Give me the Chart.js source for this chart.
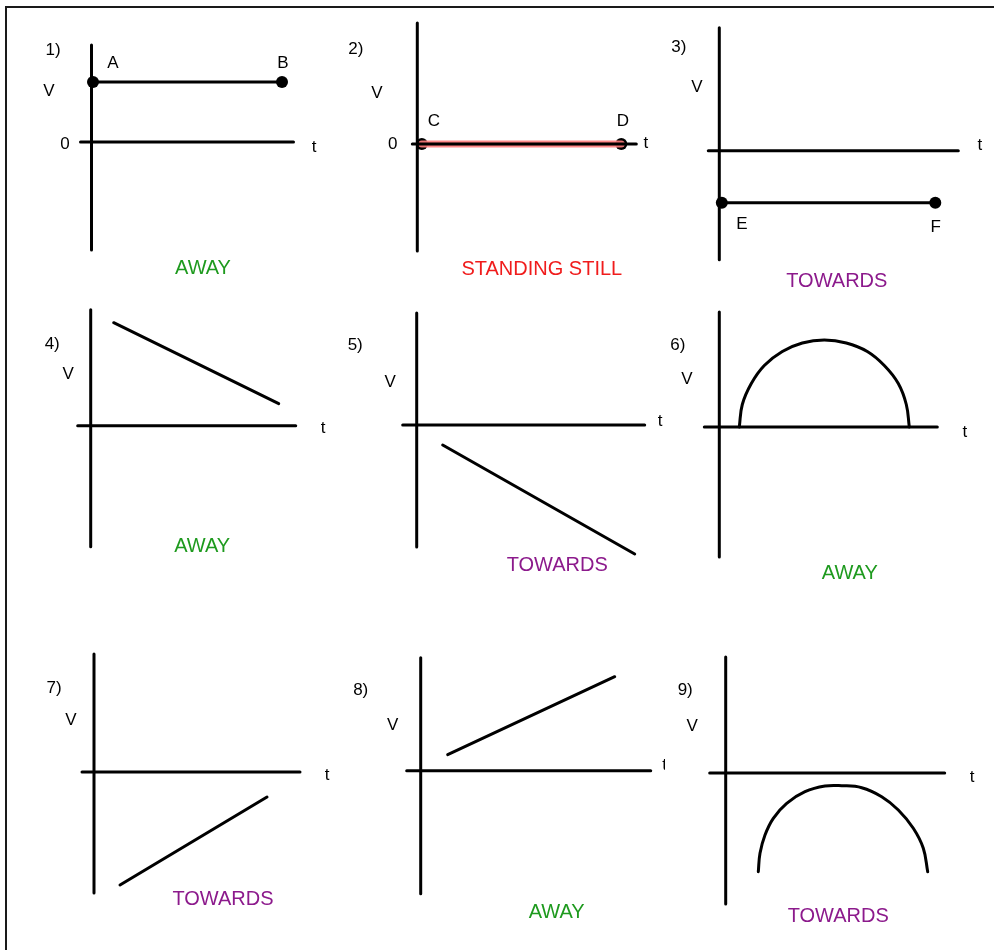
<!DOCTYPE html>
<html>
<head>
<meta charset="utf-8">
<script src="https://cdn.jsdelivr.net/npm/chart.js@4.4.1/dist/chart.umd.min.js"></script>
<style>
  body { margin: 0; background: #fff; overflow: hidden; width: 994px; height: 950px; position: relative; }
  #frame { position: absolute; left: 5px; top: 6px; width: 1100px; height: 1100px;
           border-left: 2px solid #1a1a1a; border-top: 2px solid #1a1a1a; }
  canvas { position: absolute; }
</style>
</head>
<body>
<div id="frame"></div>
<script>
// --- data (t and V in arbitrary units, origin = where the axes cross) ---
const panelNumbers = ["1)", "2)", "3)", "4)", "5)", "6)", "7)", "8)", "9)"];
const verdicts = ["AWAY", "STANDING STILL", "TOWARDS", "AWAY", "TOWARDS", "AWAY", "TOWARDS", "AWAY", "TOWARDS"];

// extent of the drawn t axis and V axis in each panel
const tAxisSpan = [[-1.1, 20.2], [-0.5, 21.9], [-1.1, 23.9], [-1.3, 20.5], [-1.4, 22.8], [-1.5, 21.8], [-1.2, 20.6], [-1.4, 23.0], [-1.6, 21.9]];
const vAxisSpan = [[-10.8, 9.7], [-10.7, 12.1], [-10.9, 12.3], [-12.1, 11.6], [-12.2, 11.2], [-13.0, 11.5], [-12.1, 11.8], [-12.3, 11.3], [-13.1, 11.6]];

// velocity-time series
const series1 = [{ x: 0.15, y: 6.0 }, { x: 19.05, y: 6.0 }];
const series2 = [{ x: 0.45, y: 0 }, { x: 20.4, y: 0 }];
const series3 = [{ x: 0.25, y: -5.2 }, { x: 21.6, y: -5.2 }];
const series4 = [{ x: 2.3, y: 10.3 }, { x: 18.8, y: 2.2 }];
const series5 = [{ x: 2.6, y: -2.0 }, { x: 21.8, y: -12.9 }];
const series6 = [
  { x: 2.0, y: 0 }, { x: 2.3, y: 2.25 }, { x: 3.2, y: 4.35 }, { x: 4.5, y: 6.15 },
  { x: 6.3, y: 7.55 }, { x: 8.3, y: 8.4 }, { x: 10.5, y: 8.7 }, { x: 12.7, y: 8.4 },
  { x: 14.8, y: 7.55 }, { x: 16.5, y: 6.15 }, { x: 17.9, y: 4.35 }, { x: 18.7, y: 2.25 },
  { x: 19.0, y: 0 }
];
const series7 = [{ x: 2.6, y: -11.3 }, { x: 17.3, y: -2.5 }];
const series8 = [{ x: 2.7, y: 1.6 }, { x: 19.4, y: 9.4 }];
const series9 = [
  { x: 3.26, y: -9.87 }, { x: 3.43, y: -8.03 }, { x: 3.93, y: -6.2 }, { x: 4.76, y: -4.53 },
  { x: 6.1, y: -3.03 }, { x: 7.93, y: -1.87 }, { x: 9.93, y: -1.3 }, { x: 11.6, y: -1.27 },
  { x: 13.6, y: -1.47 }, { x: 15.6, y: -2.37 }, { x: 17.26, y: -3.7 }, { x: 18.76, y: -5.53 },
  { x: 19.76, y: -7.53 }, { x: 20.2, y: -9.87 }
];
const allSeries = [series1, series2, series3, series4, series5, series6, series7, series8, series9];
const endDots = [true, true, true, false, false, false, false, false, false];
const curved = [false, false, false, false, false, true, false, false, true];

// end-point letters
const pointLetters = [["A", "B"], ["C", "D"], ["E", "F"], [], [], [], [], [], []];
const letterPos = [[[2.15, 7.9], [19.15, 7.9]], [[1.65, 2.3], [20.55, 2.3]], [[2.25, -7.4], [21.65, -7.7]], [], [], [], [], [], []];

// label anchor points, same units
const numberPos = [[-3.85, 9.2], [-6.15, 9.5], [-4.05, 10.3], [-3.85, 8.1], [-6.15, 8.0], [-4.15, 8.2], [-4.0, 8.4], [-6.0, 8.0], [-4.05, 8.3]];
const vLabelPos = [[-4.25, 5.1], [-4.05, 5.1], [-2.25, 6.3], [-2.25, 5.1], [-2.65, 4.3], [-3.25, 4.8], [-2.3, 5.2], [-2.8, 4.5], [-3.35, 4.7]];
const tLabelPos = [[22.25, -0.5], [22.85, 0.1], [26.05, 0.5], [23.25, -0.3], [24.35, 0.4], [24.55, -0.5], [23.3, -0.3], [24.4, 0.5], [24.65, -0.4]];
const zeroLabelPos = [[-2.65, -0.2], [-2.45, 0], null, null, null, null, null, null, null];
const verdictPos = [[11.15, -12.6], [12.45, -12.5], [11.75, -13.1], [11.15, -12.1], [14.05, -14.0], [13.05, -14.6], [12.9, -12.7], [13.6, -14.2], [11.25, -14.3]];

// --- layout ---
const PX = 10; // pixels per unit
const origins = [[91.5, 142], [417.3, 144], [719.3, 150.7], [90.7, 425.7], [416.7, 425], [719.3, 427], [94, 772], [420.7, 770.7], [725.7, 773]];
const colLeft = [8, 330, 655], colWidth = [330, 335, 339];
const rowTop = [8, 292, 615], rowHeight = [300, 330, 335];
const verdictColor = { "AWAY": "#1e9a1e", "TOWARDS": "#8c1a8c", "STANDING STILL": "#f01c1c" };
const FONT = '"Liberation Sans", Arial, sans-serif';

function labelPlugin(items) {
  return {
    id: "panelLabels",
    afterDatasetsDraw(chart) {
      const { ctx, scales } = chart;
      ctx.save();
      ctx.textAlign = "center";
      ctx.textBaseline = "middle";
      items.forEach(it => {
        ctx.font = it.size + "px " + FONT;
        ctx.fillStyle = it.color;
        ctx.fillText(it.text, scales.x.getPixelForValue(it.pos[0]), scales.y.getPixelForValue(it.pos[1]));
      });
      ctx.restore();
    }
  };
}

function lineSet(data, color, width, smooth) {
  return {
    data: data, showLine: true, borderColor: color, borderWidth: width,
    pointRadius: 0, borderCapStyle: "round", borderJoinStyle: "round", clip: false,
    tension: smooth ? 0.4 : 0
  };
}

for (let i = 0; i < 9; i++) {
  const col = i % 3, row = Math.floor(i / 3);
  const left = colLeft[col], top = rowTop[row], w = colWidth[col], h = rowHeight[row];
  const [ox, oy] = origins[i];

  const canvas = document.createElement("canvas");
  canvas.width = w;
  canvas.height = h;
  canvas.style.left = left + "px";
  canvas.style.top = top + "px";
  document.body.appendChild(canvas);

  const data = allSeries[i];
  const datasets = [
    lineSet([{ x: tAxisSpan[i][0], y: 0 }, { x: tAxisSpan[i][1], y: 0 }], "#000", 3),
    lineSet([{ x: 0, y: vAxisSpan[i][0] }, { x: 0, y: vAxisSpan[i][1] }], "#000", 3)
  ];
  if (i === 1) {
    datasets.push(lineSet(data, "rgba(255,125,125,0.9)", 7));
    datasets.push(lineSet(data, "#8a0606", 3));
  } else {
    datasets.push(lineSet(data, "#000", 3, curved[i]));
  }
  if (endDots[i]) {
    datasets.push({
      data: [data[0], data[data.length - 1]], showLine: false, clip: false,
      pointRadius: 6, pointBackgroundColor: "#000", pointBorderWidth: 0
    });
  }

  const items = [
    { text: panelNumbers[i], pos: numberPos[i], size: 17, color: "#000" },
    { text: "V", pos: vLabelPos[i], size: 17, color: "#000" },
    { text: "t", pos: tLabelPos[i], size: 17, color: "#000" },
    { text: verdicts[i], pos: verdictPos[i], size: 20, color: verdictColor[verdicts[i]] }
  ];
  if (zeroLabelPos[i]) items.push({ text: "0", pos: zeroLabelPos[i], size: 17, color: "#000" });
  pointLetters[i].forEach((letter, k) => items.push({ text: letter, pos: letterPos[i][k], size: 17, color: "#000" }));

  new Chart(canvas, {
    type: "scatter",
    data: { datasets: datasets },
    options: {
      responsive: false,
      animation: false,
      events: [],
      layout: { padding: 0, autoPadding: false },
      scales: {
        x: { type: "linear", display: false, bounds: "data", min: (left - ox) / PX, max: (left + w - ox) / PX },
        y: { type: "linear", display: false, bounds: "data", min: (oy - top - h) / PX, max: (oy - top) / PX }
      },
      plugins: { legend: { display: false }, tooltip: { enabled: false } }
    },
    plugins: [labelPlugin(items)]
  });
}
</script>
</body>
</html>
